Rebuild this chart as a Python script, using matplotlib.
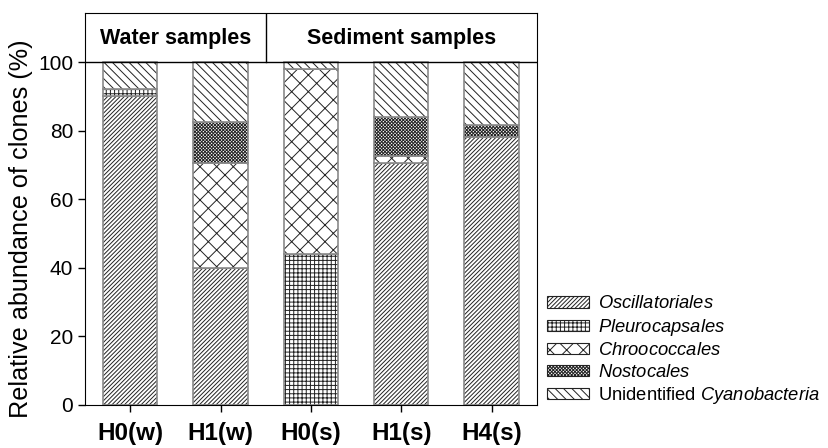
import numpy as np
import matplotlib
matplotlib.use("Agg")
import matplotlib.pyplot as plt
from matplotlib.patches import Patch

plt.rcParams["font.family"] = ["Liberation Sans", "DejaVu Sans"]
plt.rcParams["mathtext.fontset"] = "custom"
plt.rcParams["mathtext.rm"] = "Liberation Sans"
plt.rcParams["mathtext.it"] = "Liberation Sans:italic"
plt.rcParams["hatch.linewidth"] = 0.7

samples = ["H0(w)", "H1(w)", "H0(s)", "H1(s)", "H4(s)"]
orders = ["Oscillatoriales", "Pleurocapsales", "Chroococcales", "Nostocales", "Unidentified Cyanobacteria"]
legend_labels = [r"$\it{Oscillatoriales}$", r"$\it{Pleurocapsales}$", r"$\it{Chroococcales}$",
                 r"$\it{Nostocales}$", r"Unidentified $\it{Cyanobacteria}$"]

oscillatoriales = [90, 40, 0, 70.5, 78]
pleurocapsales = [2, 0, 44, 0, 0]
chroococcales = [0, 30.5, 54, 2, 0]
nostocales = [0, 12, 0, 11.5, 3.5]
unidentified = [8, 17.5, 2, 16, 18.5]

groups = ["Water samples", "Sediment samples"]

series = [oscillatoriales, pleurocapsales, chroococcales, nostocales, unidentified]
hatches = ["////////", "++++", "xx", "xxxxxxxxxx", "\\\\\\\\"]

fig = plt.figure(figsize=(8.29, 4.48), dpi=100)
ax = fig.add_axes([0.1025, 0.096, 0.545, 0.875])

x = np.arange(len(samples))
width = 0.6
bottom = np.zeros(len(samples))
for vals, h in zip(series, hatches):
    vals = np.array(vals, dtype=float)
    # hatch drawn in dark colour, outline in gray on top
    ax.bar(x, vals, width, bottom=bottom, color="white", edgecolor="#222222",
           linewidth=0, hatch=h)
    ax.bar(x, vals, width, bottom=bottom, fill=False, edgecolor="#8a8a8a",
           linewidth=1.2)
    bottom += vals

ax.set_xlim(-0.5, 4.5)
ax.set_ylim(0, 114.3)
ax.set_yticks([0, 20, 40, 60, 80, 100])
ax.set_xticks(x)
ax.set_xticklabels(samples, fontsize=17.5, fontweight="bold")
ax.tick_params(axis="y", labelsize=15, length=5, width=1)
ax.tick_params(axis="x", length=5, width=1, pad=7)
ax.set_ylabel("Relative abundance of clones (%)", fontsize=18.2)
ax.yaxis.set_label_coords(-0.115, 0.45)

# header box
ax.axhline(100, color="black", linewidth=1)
ax.plot([1.5, 1.5], [100, 114.3], color="black", linewidth=1)
ax.text(0.5, 107, groups[0], ha="center", va="center", fontsize=15.5, fontweight="bold")
ax.text(3.0, 107, groups[1], ha="center", va="center", fontsize=15.5, fontweight="bold")

handles = [Patch(facecolor="white", edgecolor="#222222", hatch=h, linewidth=0.8) for h in hatches]
fig.legend(handles, legend_labels, loc="center left", bbox_to_anchor=(0.66, 0.217),
           frameon=False, fontsize=13.2, handlelength=2.3, handleheight=0.55,
           labelspacing=0.24, handletextpad=0.45, borderpad=0, borderaxespad=0)

fig.savefig("out.png", dpi=100)
